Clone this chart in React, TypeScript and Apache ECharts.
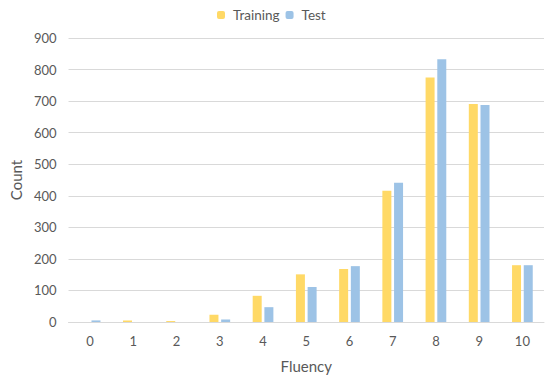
import React, { useEffect, useRef } from "react";
import * as echarts from "echarts";

const categories = ["0", "1", "2", "3", "4", "5", "6", "7", "8", "9", "10"];
const training = [0, 5, 3, 23, 83, 151, 168, 416, 775, 691, 180];
const test = [5, 0, 0, 8, 47, 111, 177, 441, 833, 688, 180];

export default function App() {
  const ref = useRef<HTMLDivElement>(null);
  useEffect(() => {
    const chart = echarts.init(ref.current!, null, { renderer: "svg" });
    const font = "Lato";
    const txt = "#595959";
    chart.setOption({
      animation: false,
      textStyle: { fontFamily: font },
      legend: {
        top: 3,
        left: 212,
        itemWidth: 8,
        itemHeight: 8,
        itemGap: 6,
        textStyle: { color: txt, fontSize: 13.5, fontFamily: font, padding: [0, 0, 0, 3] },
        data: ["Training", "Test"],
      },
      grid: { left: 58.5, right: 6, top: 38, bottom: 56, containLabel: false },
      xAxis: {
        type: "category",
        data: categories,
        name: "Fluency",
        nameLocation: "middle",
        nameGap: 36,
        nameTextStyle: { color: txt, fontSize: 15, fontFamily: font },
        axisLine: { lineStyle: { color: "#D9D9D9" } },
        axisTick: { show: false },
        axisLabel: { color: txt, fontSize: 13, margin: 12, fontFamily: font },
      },
      yAxis: {
        type: "value",
        min: 0,
        max: 900,
        interval: 100,
        name: "Count",
        nameLocation: "middle",
        nameGap: 45,
        nameTextStyle: { color: txt, fontSize: 15, fontFamily: font },
        axisLine: { show: false },
        axisTick: { show: false },
        axisLabel: { color: txt, fontSize: 13, margin: 12, fontFamily: font },
        splitLine: { lineStyle: { color: "#D9D9D9" } },
      },
      series: [
        {
          name: "Training",
          type: "bar",
          data: training,
          barWidth: 9,
          barGap: "30%",
          itemStyle: { color: "#FFD966" },
        },
        {
          name: "Test",
          type: "bar",
          data: test,
          barWidth: 9,
          barGap: "30%",
          itemStyle: { color: "#9DC3E6" },
        },
      ],
    });
    return () => chart.dispose();
  }, []);
  return <div ref={ref} style={{ width: 550, height: 378, position: "absolute", left: 0, top: 0 }} />;
}
